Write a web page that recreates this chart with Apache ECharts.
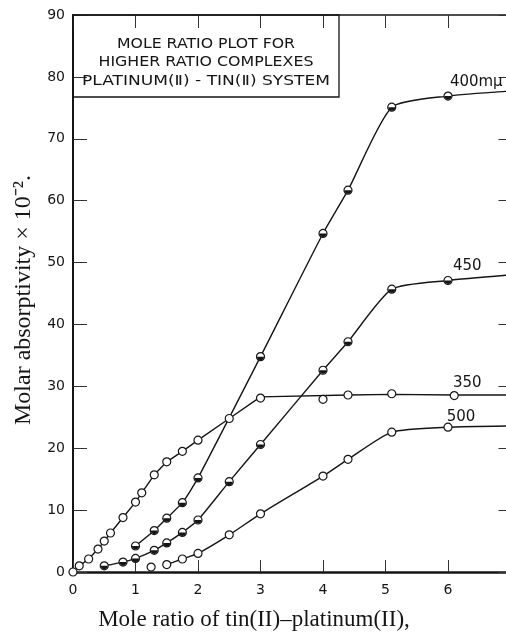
<!DOCTYPE html>
<html>
<head>
<meta charset="utf-8">
<script src="https://cdn.jsdelivr.net/npm/echarts@6/dist/echarts.min.js"></script>
<style>
html,body{margin:0;padding:0;background:#fff;}
#c{width:506px;height:634px;}
</style>
</head>
<body>
<div id="c"></div>
<script>
// ---- data ----
const xTicks = [0, 1, 2, 3, 4, 5, 6];
const yTicks = [0, 10, 20, 30, 40, 50, 60, 70, 80, 90];

// 350 mμ (open circles)
const x350 = [0, 0.1, 0.25, 0.4, 0.5, 0.6, 0.8, 1.0, 1.1, 1.3, 1.5, 1.75, 2.0, 2.5, 3.0, 4.0, 4.4, 5.1, 6.1];
const y350 = [0, 1.0, 2.1, 3.7, 5.0, 6.3, 8.8, 11.3, 12.8, 15.7, 17.8, 19.5, 21.3, 24.8, 28.1, 27.9, 28.6, 28.8, 28.5];
// drawn curve for 350
const x350line = [0, 0.1, 0.25, 0.4, 0.5, 0.6, 0.8, 1.0, 1.1, 1.3, 1.5, 1.75, 2.0, 2.5, 3.0, 4.4, 5.1, 6.1, 7.0];
const y350line = [0, 1.0, 2.1, 3.7, 5.0, 6.3, 8.8, 11.3, 12.8, 15.7, 17.8, 19.5, 21.3, 24.8, 28.3, 28.6, 28.7, 28.6, 28.6];

// 400 mμ (half-filled circles)
const x400 = [1.0, 1.3, 1.5, 1.75, 2.0, 3.0, 4.0, 4.4, 5.1, 6.0];
const y400 = [4.2, 6.7, 8.7, 11.2, 15.2, 34.8, 54.7, 61.7, 75.1, 76.9];
const x400line = [1.0, 1.3, 1.5, 1.75, 2.0, 3.0, 4.0, 4.4, 5.1, 6.0, 7.0];
const y400line = [4.2, 6.7, 8.7, 11.2, 15.2, 34.8, 54.7, 61.7, 75.1, 76.9, 77.7];

// 450 mμ (half-filled circles)
const x450 = [0.5, 0.8, 1.0, 1.3, 1.5, 1.75, 2.0, 2.5, 3.0, 4.0, 4.4, 5.1, 6.0];
const y450 = [1.0, 1.6, 2.2, 3.5, 4.7, 6.4, 8.4, 14.6, 20.6, 32.6, 37.2, 45.7, 47.1];
const x450line = [0.5, 0.8, 1.0, 1.3, 1.5, 1.75, 2.0, 2.5, 3.0, 4.0, 4.4, 5.1, 6.0, 7.0];
const y450line = [1.0, 1.6, 2.2, 3.5, 4.7, 6.4, 8.4, 14.6, 20.6, 32.6, 37.2, 45.7, 47.1, 48.0];

// 500 mμ (open circles)
const x500 = [1.25, 1.5, 1.75, 2.0, 2.5, 3.0, 4.0, 4.4, 5.1, 6.0];
const y500 = [0.8, 1.2, 2.1, 3.0, 6.0, 9.4, 15.5, 18.2, 22.6, 23.4];
const x500line = [1.5, 1.75, 2.0, 2.5, 3.0, 4.0, 4.4, 5.1, 6.0, 7.0];
const y500line = [1.2, 2.1, 3.0, 6.0, 9.4, 15.5, 18.2, 22.6, 23.4, 23.6];

// curve labels
const curveLabels = ['400mμ', '450', '350', '500'];
const curveLabelX = [6.03, 6.08, 6.08, 5.98];
const curveLabelY = [79.2, 49.4, 30.5, 25.0];

const boxLines = ['MOLE RATIO PLOT FOR', 'HIGHER RATIO COMPLEXES', 'PLATINUM(Ⅱ) - TIN(Ⅱ) SYSTEM'];
const xTitle = 'Mole ratio of tin(II)–platinum(II),';
const yTitle = 'Molar absorptivity × 10⁻².';

// ---- build ----
const zip = (xs, ys) => xs.map((x, i) => [x, ys[i]]);
const INK = '#151515';
const halfPath = 'path://M0,0 C0,0.55 0.45,1 1,1 C1.55,1 2,0.55 2,0 Z';

function lineSeries(xs, ys, smooth) {
  return {
    type: 'line', data: zip(xs, ys), showSymbol: false, symbol: 'none',
    smooth: smooth, lineStyle: { color: INK, width: 1.4 }, z: 2, silent: true
  };
}
function openPts(xs, ys) {
  return {
    type: 'scatter', data: zip(xs, ys), symbol: 'circle', symbolSize: 8,
    itemStyle: { color: '#fff', borderColor: INK, borderWidth: 1.2, opacity: 1 }, z: 3, silent: true
  };
}
function halfPts(xs, ys) {
  return {
    type: 'scatter', data: zip(xs, ys), symbol: halfPath, symbolSize: [7, 3.6],
    symbolOffset: [0, 1.8], itemStyle: { color: INK, opacity: 1 }, z: 4, silent: true
  };
}

const chart = echarts.init(document.getElementById('c'), null, { renderer: 'canvas' });

const axisFont = { fontSize: 14, color: INK, fontFamily: 'DejaVu Sans' };

const option = {
  animation: false,
  backgroundColor: '#fff',
  grid: { left: 73, top: 15, width: 437.5, height: 557, containLabel: false, outerBoundsMode: 'none' },
  xAxis: [
    {
      type: 'value', min: 0, max: 7, interval: 1, position: 'bottom',
      axisLine: { onZero: false, lineStyle: { color: INK, width: 2.5 } },
      axisTick: { inside: true, length: 12, lineStyle: { color: '#333', width: 1 } },
      axisLabel: Object.assign({ margin: 11, formatter: v => (xTicks.indexOf(v) >= 0 ? String(v) : '') }, axisFont),
      splitLine: { show: false }
    },
    {
      type: 'value', min: 0, max: 7, interval: 1, position: 'top',
      axisLine: { onZero: false, lineStyle: { color: INK, width: 1.5 } },
      axisTick: { inside: true, length: 13, lineStyle: { color: '#333', width: 1 } },
      axisLabel: { show: false }, splitLine: { show: false }
    }
  ],
  yAxis: [
    {
      type: 'value', min: 0, max: 90, interval: 10, position: 'left',
      axisLine: { onZero: false, lineStyle: { color: INK, width: 2 } },
      axisTick: { inside: true, length: 14, lineStyle: { color: '#333', width: 1 } },
      axisLabel: Object.assign({ margin: 8, formatter: v => (yTicks.indexOf(v) >= 0 ? String(v) : '') }, axisFont),
      splitLine: { show: false }
    },
    {
      type: 'value', min: 0, max: 90, interval: 10, position: 'right',
      axisLine: { onZero: false, lineStyle: { color: INK, width: 1.5 } },
      axisTick: { inside: true, length: 12, lineStyle: { color: '#333', width: 1 } },
      axisLabel: { show: false }, splitLine: { show: false }
    }
  ],
  series: [
    lineSeries(x350line, y350line, false),
    lineSeries(x400line, y400line, 0.2),
    lineSeries(x450line, y450line, 0.2),
    lineSeries(x500line, y500line, 0.2),
    openPts(x350, y350),
    openPts(x500, y500),
    openPts(x400, y400),
    openPts(x450, y450),
    halfPts(x400, y400),
    halfPts(x450, y450)
  ]
};
chart.setOption(option);

// ---- texts ----
const measureCtx = document.createElement('canvas').getContext('2d');
function textWidth(t, font) { measureCtx.font = font; return measureCtx.measureText(t).width; }

const graphics = [];
// legend box
const boxTL = chart.convertToPixel({ gridIndex: 0 }, [0, 90]);
graphics.push({
  type: 'rect', shape: { x: boxTL[0], y: boxTL[1], width: 266, height: 82 },
  style: { fill: 'none', stroke: INK, lineWidth: 1.3 }, z: 10, silent: true
});
const boxLineY = [44, 62, 81];
const boxLineW = [178, 215, 248];
const boxFont = '14px "DejaVu Sans"';
boxLines.forEach((t, i) => {
  const s = boxLineW[i] / textWidth(t, boxFont);
  graphics.push({
    type: 'text', x: 206, y: boxLineY[i], scaleX: s,
    style: { text: t, fill: INK, font: boxFont, textAlign: 'center', textVerticalAlign: 'middle' },
    z: 10, silent: true
  });
});
// curve labels
curveLabels.forEach((t, i) => {
  const p = chart.convertToPixel({ gridIndex: 0 }, [curveLabelX[i], curveLabelY[i]]);
  graphics.push({
    type: 'text', x: p[0], y: p[1],
    style: { text: t, fill: INK, font: '15px "DejaVu Sans"', textAlign: 'left', textVerticalAlign: 'middle' },
    z: 10, silent: true
  });
});
// axis titles
const titleFont = '23px "Liberation Serif"';
graphics.push({
  type: 'text', x: 254, y: 620,
  style: { text: xTitle, fill: INK, font: titleFont, textAlign: 'center', textVerticalAlign: 'middle' },
  z: 10, silent: true
});
graphics.push({
  type: 'text', x: 24, y: 300, rotation: Math.PI / 2,
  style: { text: yTitle, fill: INK, font: '24px "Liberation Serif"', textAlign: 'center', textVerticalAlign: 'middle' },
  z: 10, silent: true
});
chart.setOption({ graphic: graphics });
</script>
</body>
</html>
